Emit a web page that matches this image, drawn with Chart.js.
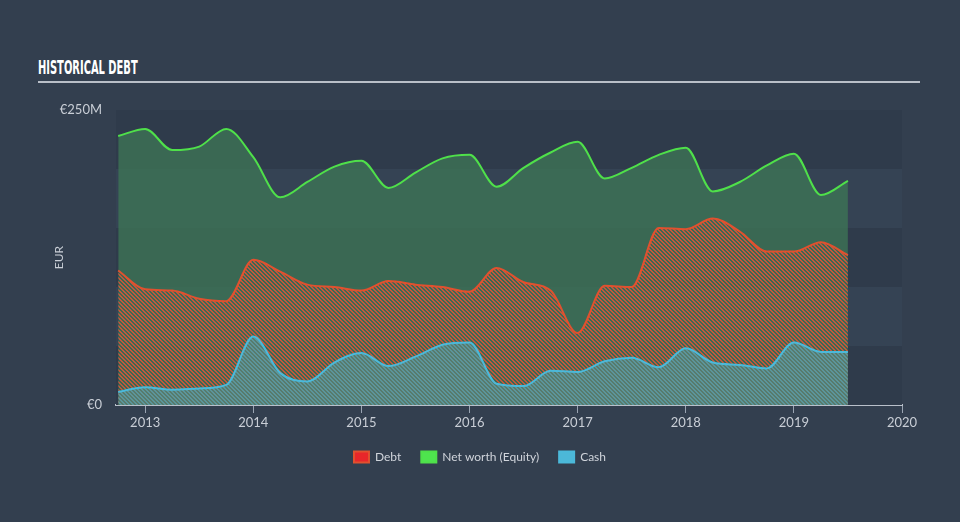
<!DOCTYPE html>
<html>
<head>
<meta charset="utf-8">
<script src="https://cdn.jsdelivr.net/npm/chart.js@4.4.0/dist/chart.umd.min.js"></script>
<style>
  html, body { margin: 0; padding: 0; background: #333f4f; }
  #wrap { position: relative; width: 960px; height: 522px; }
  #title {
    position: absolute; left: 38px; top: 57px; width: 882px;
    padding-bottom: 4px; border-bottom: 2px solid #b9bfc8; line-height: 20px; height: 20px;
  }
  #title span {
    display: inline-block; transform: scaleX(0.58); transform-origin: left center;
    font-family: "DejaVu Sans Condensed", "DejaVu Sans", sans-serif; white-space: nowrap;
    font-weight: bold; font-size: 19px; color: #ffffff;
  }
  canvas { position: absolute; left: 0; top: 0; }
</style>
</head>
<body>
<div id="wrap">
  <div id="title"><span>HISTORICAL DEBT</span></div>
  <canvas id="myChart" width="960" height="522"></canvas>
</div>
<script>
// quarter-end dates as decimal years
var dates = [2012.75, 2013, 2013.25, 2013.5, 2013.75, 2014, 2014.25, 2014.5, 2014.75,
             2015, 2015.25, 2015.5, 2015.75, 2016, 2016.25, 2016.5, 2016.75,
             2017, 2017.25, 2017.5, 2017.75, 2018, 2018.25, 2018.5, 2018.75,
             2019, 2019.25, 2019.5];
// values in EUR millions
var debt   = [114, 98, 97, 90, 88, 123, 113, 102, 100, 97, 105, 102, 100, 96, 116, 104, 97,
              61, 101, 100, 150, 149, 158, 147, 130, 130, 138, 127];
var equity = [228, 234, 216, 219, 234, 210, 176, 189, 202, 207, 184, 197, 209, 212, 185, 201, 214,
              223, 192, 201, 212, 218, 181, 189, 203, 213, 178, 190];
var cash   = [11, 15, 13, 14, 17, 58, 27, 20, 36, 44, 33, 41, 51, 53, 18, 16, 29,
              28, 37, 40, 32, 48, 36, 34, 31, 53, 45, 45];
var years = [2013, 2014, 2015, 2016, 2017, 2018, 2019, 2020];
var yTicks = [0, 250];

function pts(vals) {
    return vals.map(function (v, i) { return { x: dates[i], y: v }; });
}

// diagonal hatch pattern
function hatch(stripe, base) {
    var c = document.createElement('canvas');
    var p = 4;
    c.width = p; c.height = p;
    var g = c.getContext('2d');
    if (base) { g.fillStyle = base; g.fillRect(0, 0, p, p); }
    g.fillStyle = stripe;
    for (var x = 0; x < p; x++) {
        for (var y = 0; y < p; y++) {
            if (((x - y) % p + p) % p < 2) g.fillRect(x, y, 1, 1);
        }
    }
    return g.createPattern(c, 'repeat');
}

var bands = {
    id: 'bands',
    beforeDatasetsDraw: function (chart) {
        var ctx = chart.ctx, a = chart.chartArea, ys = chart.scales.y;
        ctx.save();
        for (var v = 0; v < 250; v += 50) {
            var top = ys.getPixelForValue(v + 50), bot = ys.getPixelForValue(v);
            ctx.fillStyle = (v / 50) % 2 === 0 ? '#2f3b4b' : '#354354';
            ctx.fillRect(a.left, top, a.right - a.left, bot - top);
        }
        ctx.restore();
    }
};

var tickFont = { family: 'Lato, "Open Sans", sans-serif', size: 13 };

var chart = new Chart(document.getElementById('myChart'), {
    type: 'line',
    data: {
        datasets: [
            {
                label: 'Debt',
                data: pts(debt),
                borderColor: '#e0512f',
                backgroundColor: '#e8262a',
                fill: { target: 'origin', above: hatch('#c0583c', null) },
                borderWidth: 2,
                order: 1
            },
            {
                label: 'Net worth (Equity)',
                data: pts(equity),
                borderColor: '#4fe04a',
                backgroundColor: '#4ee44e',
                fill: { target: 'origin', above: 'rgba(63, 122, 86, 0.72)' },
                borderWidth: 2,
                order: 2
            },
            {
                label: 'Cash',
                data: pts(cash),
                borderColor: '#4bb9da',
                backgroundColor: '#4cb8d8',
                fill: { target: 'origin', above: hatch('#5b969b', '#587a6c') },
                borderWidth: 2,
                order: 0
            }
        ]
    },
    options: {
        responsive: false,
        animation: false,
        layout: { padding: { left: 0, right: 0, top: 110, bottom: 49 } },
        elements: {
            point: { radius: 0 },
            line: { cubicInterpolationMode: 'monotone' }
        },
        scales: {
            x: {
                type: 'linear',
                min: 2012.73,
                max: 2020,
                afterBuildTicks: function (s) { s.ticks = years.map(function (v) { return { value: v }; }); },
                afterFit: function (s) { s.height = 26; },
                ticks: { color: '#c9ced6', font: tickFont, padding: 2, maxRotation: 0,
                         callback: function (v) { return String(v); } },
                grid: { display: true, drawOnChartArea: false, drawTicks: true, tickLength: 8, color: '#9aa4b2' },
                border: { display: true, color: '#b9c0ca', width: 2 }
            },
            y: {
                min: 0,
                max: 250,
                afterBuildTicks: function (s) { s.ticks = yTicks.map(function (v) { return { value: v }; }); },
                afterFit: function (s) { s.width = 116; },
                ticks: { color: '#c9ced6', font: tickFont, padding: 6,
                         callback: function (v) { return v === 0 ? '€0' : '€' + v + 'M'; } },
                grid: { display: false },
                border: { display: false },
                title: { display: true, text: 'EUR', color: '#c9ced6', font: { family: 'Lato, sans-serif', size: 12 },
                         padding: { top: 52, bottom: 0 } }
            },
            // empty right margin so the plot ends at the 2020 tick
            yRight: {
                position: 'right',
                display: true,
                afterFit: function (s) { s.width = 58; },
                ticks: { display: false },
                grid: { display: false },
                border: { display: false }
            }
        },
        plugins: {
            legend: {
                position: 'bottom',
                labels: {
                    color: '#d0d4db',
                    font: { family: 'Lato, "Open Sans", sans-serif', size: 12 },
                    boxWidth: 15, boxHeight: 11, padding: 20,
                    sort: function (a, b) { return a.datasetIndex - b.datasetIndex; }
                }
            },
            tooltip: { enabled: false }
        }
    },
    plugins: [bands]
});
</script>
</body>
</html>
